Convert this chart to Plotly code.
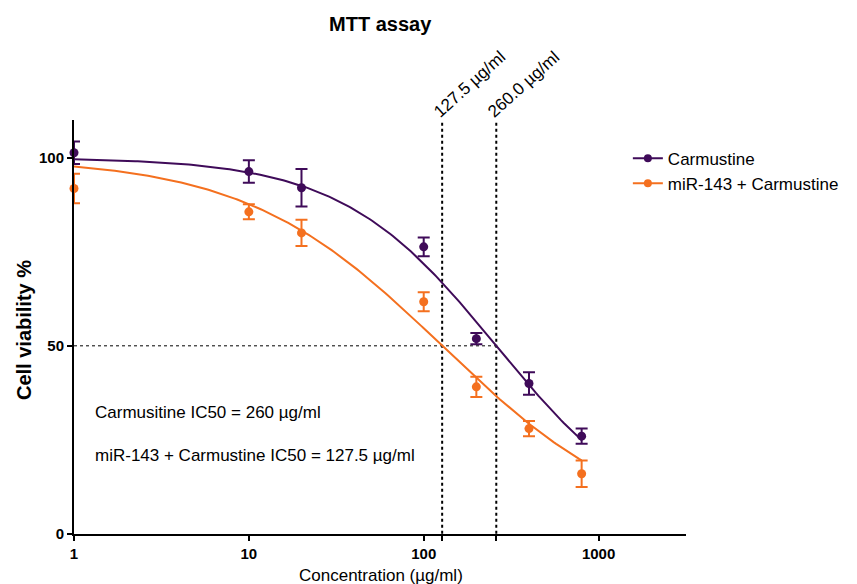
import numpy as np
import plotly.graph_objects as go

conc = [1, 10, 20, 100, 200, 400, 800]
carm_mean = [101.3, 96.3, 92.0, 76.3, 51.9, 40.0, 26.0]
carm_err = [3.0, 3.0, 5.0, 2.5, 1.5, 3.0, 2.0]
mir_mean = [91.8, 85.6, 80.0, 61.7, 39.1, 28.0, 16.0]
mir_err = [3.9, 2.0, 3.5, 2.5, 2.7, 2.0, 3.5]

# fitted curve parameters (4PL): IC50 from chart, slope estimated
carm_ic50, carm_hill = 260.0, 0.98
mir_ic50, mir_hill = 127.5, 0.77
top, bottom = 100.0, 0.0

xtick_vals = [1, 10, 100, 127.5, 260, 1000]
xtick_text = ["1", "10", "100", "", "", "1000"]
ytick_vals = [0, 50, 100]

purple = "#3f0b59"
orange = "#f4701f"
FONT = "Arial, Liberation Sans, sans-serif"

xs = np.logspace(0, np.log10(800), 200)
def fit(x, ic50, h):
    return bottom + (top - bottom) / (1 + (x / ic50) ** h)

fig = go.Figure()

# reference lines
fig.add_trace(go.Scatter(x=[1, carm_ic50], y=[50, 50], mode="lines",
                         line=dict(color="black", width=1, dash="dot"),
                         showlegend=False, hoverinfo="skip"))
for v in (mir_ic50, carm_ic50):
    fig.add_trace(go.Scatter(x=[v, v], y=[-1.5, 110], mode="lines",
                             line=dict(color="black", width=2, dash="dot"),
                             showlegend=False, hoverinfo="skip", cliponaxis=False))

# curves
fig.add_trace(go.Scatter(x=xs, y=fit(xs, carm_ic50, carm_hill), mode="lines",
                         line=dict(color=purple, width=2), showlegend=False, hoverinfo="skip"))
fig.add_trace(go.Scatter(x=xs, y=fit(xs, mir_ic50, mir_hill), mode="lines",
                         line=dict(color=orange, width=2), showlegend=False, hoverinfo="skip"))

# points
fig.add_trace(go.Scatter(x=conc, y=carm_mean, mode="markers", name="Carmustine",
                         marker=dict(color=purple, size=9), showlegend=False,
                         error_y=dict(type="data", array=carm_err, color=purple, thickness=2, width=6),
                         cliponaxis=False))
fig.add_trace(go.Scatter(x=conc, y=mir_mean, mode="markers", name="miR-143 + Carmustine",
                         marker=dict(color=orange, size=9), showlegend=False,
                         error_y=dict(type="data", array=mir_err, color=orange, thickness=2, width=6),
                         cliponaxis=False))
# legend entries with line+marker
fig.add_trace(go.Scatter(x=[None], y=[None], mode="lines+markers", name="Carmustine",
                         line=dict(color=purple, width=2), marker=dict(color=purple, size=8)))
fig.add_trace(go.Scatter(x=[None], y=[None], mode="lines+markers", name="miR-143 + Carmustine",
                         line=dict(color=orange, width=2), marker=dict(color=orange, size=8)))

fig.update_layout(
    width=857, height=584,
    margin=dict(l=74, r=171, t=120, b=50),
    plot_bgcolor="white", paper_bgcolor="white",
    font=dict(family=FONT, color="black"),
    showlegend=True,
    legend=dict(x=0.905, y=0.95, xanchor="left", yanchor="top",
                font=dict(size=17, family=FONT), bgcolor="rgba(0,0,0,0)",
                itemwidth=30, tracegroupgap=0),
    xaxis=dict(type="log", range=[0, 3.5], showgrid=False, zeroline=False,
               showline=True, linecolor="black", linewidth=2,
               ticks="outside", ticklen=5, tickwidth=2, tickcolor="black",
               tickmode="array", tickvals=xtick_vals, ticktext=xtick_text,
               tickfont=dict(size=15, family=FONT, weight="bold")),
    yaxis=dict(range=[0, 110], showgrid=False, zeroline=False,
               showline=True, linecolor="black", linewidth=2,
               ticks="outside", ticklen=5, tickwidth=2, tickcolor="black",
               tickmode="array", tickvals=ytick_vals,
               tickfont=dict(size=15, family=FONT, weight="bold")),
)

ann = [
    dict(text="<b>MTT assay</b>", xref="paper", yref="paper", x=0.5,
         y=(584 - 24 - 50) / 414.0, xanchor="center", yanchor="middle",
         showarrow=False, font=dict(size=20, family=FONT)),
    dict(text="<b>Cell viability %</b>", xref="paper", yref="paper",
         x=(24 - 74) / 612.0, y=(534 - 330) / 414.0, textangle=-90,
         xanchor="center", yanchor="middle",
         showarrow=False, font=dict(size=20, family=FONT)),
    dict(text="Concentration (µg/ml)", xref="paper", yref="paper",
         x=(381 - 74) / 612.0, y=-(575 - 534) / 414.0, xanchor="center", yanchor="middle",
         showarrow=False, font=dict(size=17, family=FONT)),
    dict(text="Carmusitine IC50 = 260 µg/ml", xref="paper", yref="paper",
         x=(93 - 74) / 612.0, y=(534 - 412) / 414.0, xanchor="left", yanchor="middle",
         showarrow=False, font=dict(size=17, family=FONT)),
    dict(text="miR-143 + Carmustine IC50 = 127.5 µg/ml", xref="paper", yref="paper",
         x=(93 - 74) / 612.0, y=(534 - 455) / 414.0, xanchor="left", yanchor="middle",
         showarrow=False, font=dict(size=17, family=FONT)),
]
for v, lab in ((mir_ic50, "127.5 µg/ml"), (carm_ic50, "260.0 µg/ml")):
    ann.append(dict(text=lab, xref="x", yref="y", x=np.log10(v), y=110,
                    textangle=-42, xanchor="left", yanchor="bottom",
                    xshift=-15, yshift=-4, showarrow=False,
                    font=dict(size=17, family=FONT)))
fig.update_layout(annotations=ann)

fig.write_html("out.html")
